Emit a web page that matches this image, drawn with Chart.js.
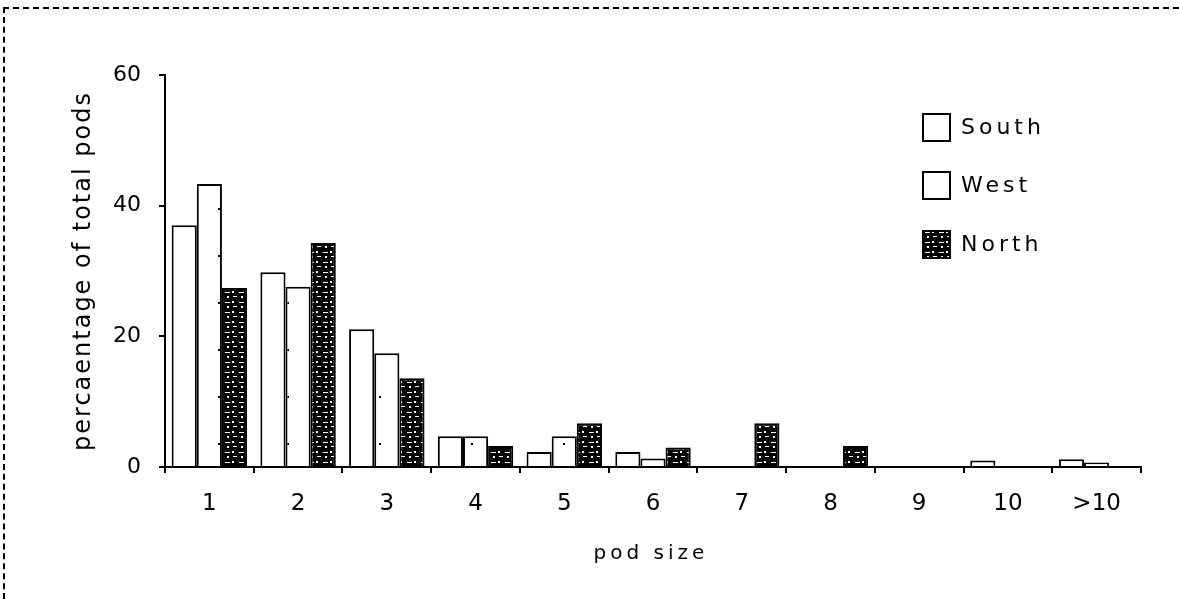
<!DOCTYPE html>
<html>
<head>
<meta charset="utf-8">
<script src="https://cdn.jsdelivr.net/npm/chart.js@4.4.0/dist/chart.umd.min.js"></script>
<style>
html, body { margin: 0; padding: 0; background: #fff; }
#wrap { position: relative; width: 1179px; height: 599px; overflow: hidden; }
#frame { position: absolute; left: 3px; top: 7px; right: -10px; bottom: -10px; border-top: 2px dashed #000; border-left: 2px dashed #000; }
#podChart { position: absolute; left: 0; top: 0; }
</style>
</head>
<body>
<div id="wrap">
	<div id="frame"></div>
	<canvas id="podChart" width="1179" height="599"></canvas>
</div>
<script>
// values
var podSizes = ['1', '2', '3', '4', '5', '6', '7', '8', '9', '10', '>10'];
var south = [37.0, 29.8, 21.1, 4.7, 2.3, 2.3, 0, 0, 0, 1.0, 1.2];
var west = [43.3, 27.6, 17.4, 4.7, 4.7, 1.3, 0, 0, 0, 0, 0.7];
var north = [27.4, 34.3, 13.6, 3.2, 6.7, 3.0, 6.7, 3.2, 0, 0, 0];
var yMax = 60;
var yStep = 20;
var xTitle = 'pod size';
var yTitle = 'percaentage of total pods';

var FONT = "'DejaVu Sans', Verdana, sans-serif";
var ctx = document.getElementById('podChart');
var c2d = ctx.getContext('2d');

// black fill with white specks, like the scanned north bars
function northPattern(){
	var c = document.createElement('canvas');
	c.width = 14; c.height = 10;
	var g = c.getContext('2d');
	g.fillStyle = '#000';
	g.fillRect(0, 0, 14, 10);
	g.fillStyle = '#fff';
	g.fillRect(1, 2, 5, 1);
	g.fillRect(8, 1, 2, 2);
	g.fillRect(3, 6, 2, 2);
	g.fillRect(9, 6, 4, 1);
	return c2d.createPattern(c, 'repeat');
}

// white fill with a few sparse dots (west bars)
function westPattern(){
	var c = document.createElement('canvas');
	c.width = 23; c.height = 47;
	var g = c.getContext('2d');
	g.fillStyle = '#fff';
	g.fillRect(0, 0, 23, 47);
	g.fillStyle = '#000';
	g.fillRect(11, 20, 2, 2);
	return c2d.createPattern(c, 'repeat');
}

// axis titles (letter spaced) and the legend inside the plot
var extras = {
	id: 'extras',
	afterDraw: function(chart){
		var g = chart.ctx;
		var area = chart.chartArea;
		g.save();
		g.fillStyle = '#000';

		// x title
		g.font = '20px ' + FONT;
		g.letterSpacing = '4px';
		g.textAlign = 'center';
		g.textBaseline = 'alphabetic';
		g.fillText(xTitle, 651, 559);

		// y title
		g.save();
		g.font = '24px ' + FONT;
		g.letterSpacing = '2px';
		g.translate(84, (area.top + area.bottom) / 2);
		g.rotate(-Math.PI / 2);
		g.textBaseline = 'middle';
		g.fillText(yTitle, 0, 0);
		g.restore();

		// legend
		var x = 923, tops = [114, 172, 231], box = 27;
		g.font = '22px ' + FONT;
		g.letterSpacing = '4px';
		g.textAlign = 'left';
		g.textBaseline = 'middle';
		chart.data.datasets.forEach(function(ds, i){
			var yy = tops[i];
			g.fillStyle = ds.backgroundColor;
			g.fillRect(x, yy, box, box);
			g.strokeStyle = '#000';
			g.lineWidth = 2;
			g.strokeRect(x, yy, box, box);
			g.fillStyle = '#000';
			g.fillText(ds.label, x + box + 11, yy + box / 2 + 1);
		});
		g.restore();
	}
};

var chart = new Chart(ctx, {
	type: 'bar',
	data: {
		labels: podSizes,
		datasets: [
		{
			label: 'South',
			data: south,
			backgroundColor: '#fff',
			borderColor: '#000',
			borderWidth: 2
		},
		{
			label: 'West',
			data: west,
			backgroundColor: westPattern(),
			borderColor: '#000',
			borderWidth: 2
		},
		{
			label: 'North',
			data: north,
			backgroundColor: northPattern(),
			borderColor: '#000',
			borderWidth: 2
		}
		]
	},
	options: {
		responsive: false,
		devicePixelRatio: 1,
		animation: false,
		datasets: { bar: { categoryPercentage: 0.85, barPercentage: 1.0 } },
		layout: { padding: { top: 75, right: 38, left: 0, bottom: 0 } },
		plugins: {
			legend: { display: false },
			tooltip: { enabled: false }
		},
		scales: {
			x: {
				afterFit: function(s){ s.height = 132; },
				grid: { display: true, drawOnChartArea: false, drawTicks: true, tickLength: 6, color: '#000', lineWidth: 2 },
				border: { display: true, color: '#000', width: 2 },
				ticks: { color: '#000', font: { family: FONT, size: 23 }, padding: 17, maxRotation: 0 }
			},
			y: {
				min: 0,
				max: yMax,
				afterFit: function(s){ s.width = 165; },
				grid: { display: true, drawOnChartArea: false, drawTicks: true, tickLength: 6, color: '#000', lineWidth: 2 },
				border: { display: true, color: '#000', width: 2 },
				ticks: { stepSize: yStep, color: '#000', font: { family: FONT, size: 22 }, padding: 18 }
			}
		}
	},
	plugins: [extras]
});
</script>
</body>
</html>
